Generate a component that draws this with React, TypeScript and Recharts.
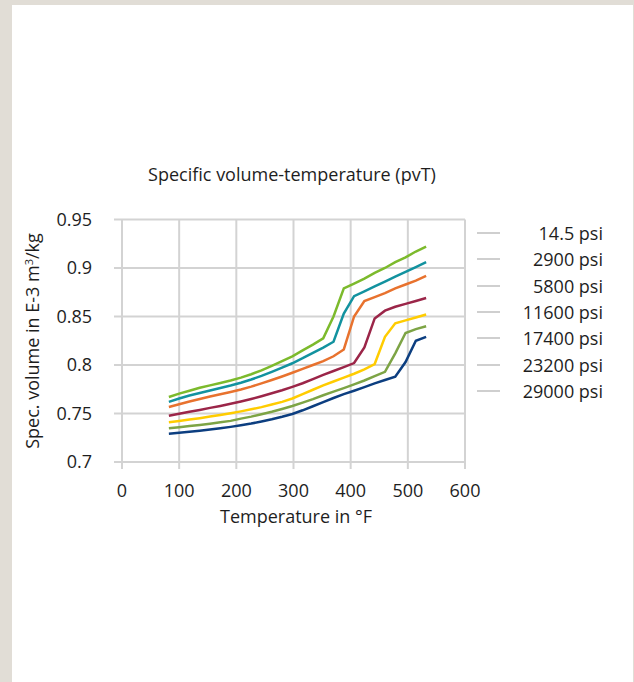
import React from "react";
import { LineChart, Line, XAxis, YAxis, CartesianGrid } from "recharts";

// temperatures in °F (x values shared by all curves)
const temperatures = [82, 100, 118, 136, 154, 172, 190, 208, 226, 244, 262, 280, 298, 316, 334, 352, 370, 388, 406, 424, 442, 460, 478, 496, 514, 532];

// specific volume in E-3 m³/kg per pressure level
const psi14_5 = [0.767, 0.7705, 0.7735, 0.7765, 0.779, 0.7815, 0.784, 0.787, 0.7905, 0.7945, 0.799, 0.804, 0.809, 0.815, 0.821, 0.8275, 0.85, 0.879, 0.884, 0.889, 0.895, 0.9, 0.906, 0.911, 0.917, 0.922];
const psi2900 = [0.762, 0.7655, 0.7685, 0.7712, 0.7738, 0.7763, 0.7788, 0.7817, 0.785, 0.7888, 0.793, 0.7973, 0.8018, 0.807, 0.8125, 0.818, 0.824, 0.853, 0.871, 0.876, 0.881, 0.886, 0.891, 0.896, 0.901, 0.906];
const psi5800 = [0.7567, 0.7595, 0.7623, 0.765, 0.7675, 0.7698, 0.7722, 0.7748, 0.7777, 0.781, 0.7845, 0.7882, 0.792, 0.796, 0.8, 0.804, 0.809, 0.816, 0.85, 0.866, 0.87, 0.874, 0.879, 0.883, 0.887, 0.892];
const psi11600 = [0.7477, 0.7497, 0.7517, 0.7537, 0.7558, 0.7578, 0.76, 0.7624, 0.765, 0.7678, 0.7708, 0.774, 0.7775, 0.7812, 0.7855, 0.7898, 0.7938, 0.7978, 0.802, 0.818, 0.848, 0.856, 0.86, 0.863, 0.866, 0.869];
const psi17400 = [0.741, 0.7423, 0.7437, 0.7452, 0.7468, 0.7485, 0.7503, 0.7522, 0.7543, 0.7566, 0.7592, 0.762, 0.7655, 0.77, 0.7745, 0.779, 0.783, 0.787, 0.791, 0.7955, 0.801, 0.829, 0.843, 0.846, 0.849, 0.852];
const psi23200 = [0.7347, 0.7358, 0.737, 0.7382, 0.7395, 0.7409, 0.7424, 0.7447, 0.7468, 0.7492, 0.7518, 0.7547, 0.7578, 0.7612, 0.7648, 0.7688, 0.7725, 0.7762, 0.78, 0.784, 0.7885, 0.793, 0.812, 0.833, 0.837, 0.84];
const psi29000 = [0.7292, 0.7301, 0.7311, 0.7322, 0.7334, 0.7347, 0.7362, 0.7378, 0.7396, 0.7417, 0.744, 0.7466, 0.7495, 0.7533, 0.7575, 0.7618, 0.766, 0.77, 0.7735, 0.7772, 0.781, 0.7845, 0.788, 0.803, 0.825, 0.829];

const xTicks = [0, 100, 200, 300, 400, 500, 600];
const yTicks = [0.7, 0.75, 0.8, 0.85, 0.9, 0.95];

const series = [
  { key: "p1", name: "14.5 psi", values: psi14_5, color: "#7cba2c" },
  { key: "p2", name: "2900 psi", values: psi2900, color: "#12929f" },
  { key: "p3", name: "5800 psi", values: psi5800, color: "#e8722e" },
  { key: "p4", name: "11600 psi", values: psi11600, color: "#9b2548" },
  { key: "p5", name: "17400 psi", values: psi17400, color: "#ffcc00" },
  { key: "p6", name: "23200 psi", values: psi23200, color: "#7da445" },
  { key: "p7", name: "29000 psi", values: psi29000, color: "#0c3e80" },
];

const data = temperatures.map((t, i) => {
  const row: Record<string, number> = { t };
  series.forEach((s) => (row[s.key] = s.values[i]));
  return row;
});

const FONT = "'Open Sans', sans-serif";
const GRID = "#d3d3d3";
const TEXT = "#1e1e1e";

export default function App() {
  return (
    <div style={{ position: "absolute", left: 0, top: 0, width: 634, height: 682, background: "#e1ddd6", fontFamily: FONT }}>
      <div style={{ position: "absolute", left: 12, top: 5, width: 621, height: 677, background: "#fff" }} />
      <div style={{ position: "absolute", left: 0, top: 0 }}>
        <LineChart width={634} height={682} data={data} margin={{ top: 219.5, right: 169, bottom: 170, left: 62 }}>
          <CartesianGrid stroke={GRID} strokeWidth={2} />
          <XAxis
            dataKey="t"
            type="number"
            domain={[0, 600]}
            ticks={xTicks}
            interval={0}
            height={50}
            axisLine={{ stroke: GRID, strokeWidth: 2 }}
            tickLine={{ stroke: GRID, strokeWidth: 2 }}
            tickSize={7}
            tickMargin={15}
            tick={{ fill: TEXT, fontSize: 18, fontFamily: FONT }}
          />
          <YAxis
            type="number"
            domain={[0.7, 0.95]}
            ticks={yTicks}
            interval={0}
            width={60}
            axisLine={{ stroke: GRID, strokeWidth: 2 }}
            tickLine={{ stroke: GRID, strokeWidth: 2 }}
            tickSize={8}
            tickMargin={22}
            tick={{ fill: TEXT, fontSize: 18, fontFamily: FONT }}
          />
          {series.map((s) => (
            <Line
              key={s.key}
              dataKey={s.key}
              name={s.name}
              type="linear"
              stroke={s.color}
              strokeWidth={2.5}
              dot={false}
              isAnimationActive={false}
            />
          ))}
        </LineChart>
      </div>
      {/* legend: grey markers, right-aligned names */}
      <div style={{ position: "absolute", left: 477, top: 220, width: 126 }}>
        {series.map((s) => (
          <div key={s.key} style={{ height: 26.3, display: "flex", alignItems: "center" }}>
            <div style={{ width: 23, height: 2, background: "#cfcfcf" }} />
            <div style={{ flex: 1, textAlign: "right", fontSize: 18, color: TEXT }}>{s.name}</div>
          </div>
        ))}
      </div>
      <div style={{ position: "absolute", left: 92, top: 162, width: 400, textAlign: "center", fontSize: 18, color: TEXT }}>
        Specific volume-temperature (pvT)
      </div>
      <div style={{ position: "absolute", left: 146, top: 504, width: 300, textAlign: "center", fontSize: 18, color: TEXT }}>
        Temperature in °F
      </div>
      <div
        style={{
          position: "absolute",
          left: 29 - 150,
          top: 341 - 12,
          width: 300,
          height: 24,
          lineHeight: "24px",
          textAlign: "center",
          fontSize: 18,
          color: TEXT,
          transform: "rotate(-90deg)",
          whiteSpace: "nowrap",
        }}
      >
        Spec. volume in E-3 m<sup style={{ fontSize: 11, verticalAlign: "6px" }}>3</sup>/kg
      </div>
    </div>
  );
}
